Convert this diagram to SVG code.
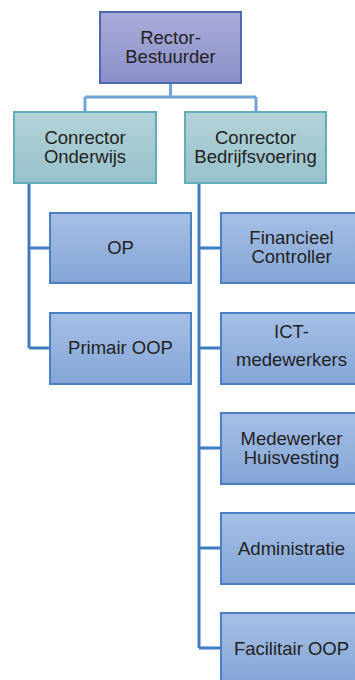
<svg xmlns="http://www.w3.org/2000/svg" width="355" height="680" viewBox="0 0 355 680">
<defs>
<linearGradient id="gTop" x1="0" y1="0" x2="0" y2="1"><stop offset="0" stop-color="#a9acd8"/><stop offset="1" stop-color="#8a8fc8"/></linearGradient>
<linearGradient id="gMid" x1="0" y1="0" x2="0" y2="1"><stop offset="0" stop-color="#b3d3d8"/><stop offset="1" stop-color="#97c1c9"/></linearGradient>
<linearGradient id="gLeaf" x1="0" y1="0" x2="0" y2="1"><stop offset="0" stop-color="#a6bfe5"/><stop offset="1" stop-color="#83a5d6"/></linearGradient>
<style>
text{font-family:"Liberation Sans",Arial,sans-serif;font-size:18.5px;fill:#222;text-anchor:middle}
.top{fill:url(#gTop);stroke:#4f68b0;stroke-width:2}
.mid{fill:url(#gMid);stroke:#62adb9;stroke-width:2}
.leaf{fill:url(#gLeaf);stroke:#4a80c2;stroke-width:2}
.c1{fill:none;stroke:#6ea6da;stroke-width:3}
.c2{fill:none;stroke:#3e7cc2;stroke-width:3}
</style>
</defs>
<g id="connectors">
<path class="c1" d="M170.5 83V97M85 97H256M85 97V112M256 97V112"/>
<path class="c2" d="M29 183V348M29 248H50M29 348H50"/>
<path class="c2" d="M199 183V648M199 248H221M199 348H221M199 448H221M199 548H221M199 648H221"/>
</g>
<g id="rector"><rect class="top" x="100" y="12" width="141" height="71"/><text x="170.5" y="44">Rector-</text><text x="170.5" y="63">Bestuurder</text></g>
<g id="conrector-onderwijs"><rect class="mid" x="14" y="112" width="142" height="71"/><text x="85" y="144">Conrector</text><text x="85" y="163">Onderwijs</text></g>
<g id="conrector-bedrijfsvoering"><rect class="mid" x="185" y="112" width="141" height="71"/><text x="255.5" y="144">Conrector</text><text x="255.5" y="163">Bedrijfsvoering</text></g>
<g id="op"><rect class="leaf" x="50" y="213" width="141" height="70"/><text x="120.5" y="254">OP</text></g>
<g id="primair-oop"><rect class="leaf" x="50" y="313" width="141" height="71"/><text x="120.5" y="354">Primair OOP</text></g>
<g id="financieel-controller"><rect class="leaf" x="221" y="213" width="141" height="70"/><text x="291.5" y="244">Financieel</text><text x="291.5" y="263">Controller</text></g>
<g id="ict-medewerkers"><rect class="leaf" x="221" y="313" width="141" height="71"/><text x="291.5" y="338">ICT-</text><text x="291.5" y="366">medewerkers</text></g>
<g id="medewerker-huisvesting"><rect class="leaf" x="221" y="413" width="141" height="71"/><text x="291.5" y="445">Medewerker</text><text x="291.5" y="464">Huisvesting</text></g>
<g id="administratie"><rect class="leaf" x="221" y="513" width="141" height="71"/><text x="291.5" y="555">Administratie</text></g>
<g id="facilitair-oop"><rect class="leaf" x="221" y="613" width="141" height="71"/><text x="291.5" y="655">Facilitair OOP</text></g>
</svg>
